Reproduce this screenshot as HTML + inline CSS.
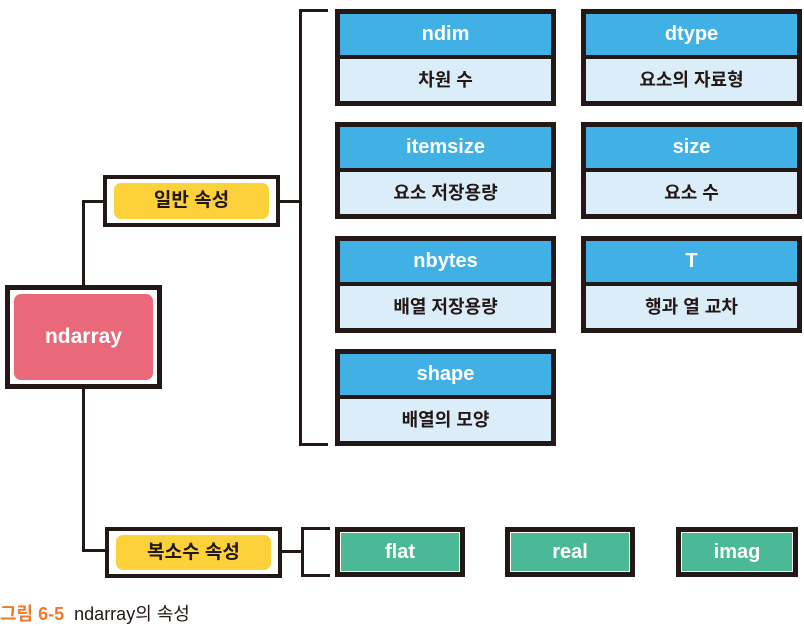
<!DOCTYPE html>
<html><head><meta charset="utf-8"><style>
body{margin:0;width:804px;height:626px;background:#fff;position:relative;overflow:hidden;font-family:"Liberation Sans","Noto Sans CJK KR",sans-serif;font-weight:bold}
*{box-sizing:border-box}
.a{position:absolute}
.card{position:absolute;width:221px;height:97px;background:#231815;padding:5px}
.card .h{height:41px;background:#41b0e4;color:#fff;font-size:20px;line-height:41px;text-align:center}
.card .b{height:42px;margin-top:4px;background:#dcedfa;color:#231815;font-size:18px;line-height:42px;text-align:center}
.ln{position:absolute;background:#231815}
.g{position:absolute;width:130px;height:50px;background:#231815;padding:5px}
.g div{background:#4bb896;height:100%;color:#fff;font-size:20px;line-height:38px;text-align:center;border:1px solid #fff}
.y{position:absolute;background:#231815;padding:4px}
.y .w{background:#fff;height:100%;padding:4px 7px}
.y .i{background:#fdd13a;border-radius:7px;height:100%;text-align:center;font-size:19px;color:#231815}
</style></head><body>
<div class="ln" style="left:82px;top:200px;width:3px;height:352px"></div>
<div class="ln" style="left:82px;top:200px;width:22px;height:3px"></div>
<div class="ln" style="left:82px;top:549px;width:24px;height:3px"></div>
<div class="ln" style="left:279px;top:200px;width:22px;height:3px"></div>
<div class="ln" style="left:299px;top:9px;width:3px;height:437px"></div>
<div class="ln" style="left:299px;top:9px;width:29px;height:3px"></div>
<div class="ln" style="left:299px;top:443px;width:29px;height:3px"></div>
<div class="ln" style="left:280px;top:550px;width:23px;height:3px"></div>
<div class="ln" style="left:301px;top:527px;width:3px;height:50px"></div>
<div class="ln" style="left:301px;top:527px;width:29px;height:3px"></div>
<div class="ln" style="left:301px;top:574px;width:29px;height:3px"></div>

<div class="y" style="left:103px;top:175px;width:177px;height:52px"><div class="w"><div class="i" style="line-height:36px">일반 속성</div></div></div>
<div class="y" style="left:105px;top:527px;width:177px;height:51px"><div class="w"><div class="i" style="line-height:35px">복소수 속성</div></div></div>

<div class="a" style="left:5px;top:285px;width:157px;height:104px;background:#231815;padding:5px"><div style="background:#fff;height:100%;padding:4px"><div style="background:#e9697a;border-radius:7px;height:100%;color:#fff;font-size:21px;line-height:86px;text-align:center">ndarray</div></div></div>

<div class="card" style="left:335px;top:9px"><div class="h">ndim</div><div class="b">차원 수</div></div>
<div class="card" style="left:581px;top:9px"><div class="h">dtype</div><div class="b">요소의 자료형</div></div>
<div class="card" style="left:335px;top:122px"><div class="h">itemsize</div><div class="b">요소 저장용량</div></div>
<div class="card" style="left:581px;top:122px"><div class="h">size</div><div class="b">요소 수</div></div>
<div class="card" style="left:335px;top:236px"><div class="h">nbytes</div><div class="b">배열 저장용량</div></div>
<div class="card" style="left:581px;top:236px"><div class="h">T</div><div class="b">행과 열 교차</div></div>
<div class="card" style="left:335px;top:349px"><div class="h">shape</div><div class="b">배열의 모양</div></div>

<div class="g" style="left:335px;top:527px"><div>flat</div></div>
<div class="g" style="left:505px;top:527px"><div>real</div></div>
<div class="g" style="left:676px;top:527px;width:122px"><div>imag</div></div>

<div class="a" style="left:0;top:600px;font-size:18px;color:#231815;white-space:nowrap"><span style="color:#ec7a2c">그림 6-5</span>&nbsp; <span style="font-weight:normal">ndarray의 속성</span></div>
</body></html>
